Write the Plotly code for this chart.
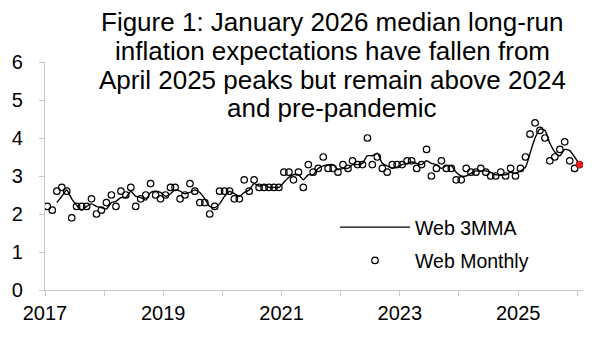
import pandas as pd
import plotly.graph_objects as go

# Monthly survey values, Jan 2017 .. Jan 2026
monthly = [
    2.2, 2.1, 2.6, 2.7, 2.6, 1.9, 2.2, 2.2, 2.2, 2.4, 2.0, 2.1,   # 2017
    2.3, 2.5, 2.2, 2.6, 2.5, 2.7, 2.2, 2.4, 2.5, 2.8, 2.5, 2.4,   # 2018
    2.5, 2.7, 2.7, 2.4, 2.5, 2.8, 2.6, 2.3, 2.3, 2.0, 2.2, 2.6,   # 2019
    2.6, 2.6, 2.4, 2.4, 2.9, 2.6, 2.9, 2.7, 2.7, 2.7, 2.7, 2.7,   # 2020
    3.1, 3.1, 2.9, 3.1, 2.7, 3.3, 3.1, 3.2, 3.5, 3.2, 3.2, 3.1,   # 2021
    3.3, 3.2, 3.4, 3.3, 3.3, 4.0, 3.3, 3.5, 3.2, 3.1, 3.3, 3.3,   # 2022
    3.3, 3.4, 3.4, 3.2, 3.3, 3.7, 3.0, 3.2, 3.4, 3.2, 3.2, 2.9,   # 2023
    2.9, 3.2, 3.1, 3.1, 3.2, 3.1, 3.0, 3.0, 3.1, 3.0, 3.2, 3.0,   # 2024
    3.2, 3.5, 4.1, 4.4, 4.2, 4.0, 3.4, 3.5, 3.7, 3.9, 3.4, 3.2,   # 2025
    3.3,                                                          # 2026
]
start_month = "2017-01-01"
end_month = "2026-01-01"
year_ticks = [str(y) for y in range(2017, 2027)]
year_labels = [y if (int(y) - 2017) % 2 == 0 else "" for y in year_ticks]
y_ticks = [0, 1, 2, 3, 4, 5, 6]
title_lines = [
    "Figure 1: January 2026 median long-run",
    "inflation expectations have fallen from",
    "April 2025 peaks but remain above 2024",
    "and pre-pandemic",
]

dates = pd.date_range(start_month, end_month, freq="MS") + pd.Timedelta(days=14)
s = pd.Series(monthly, index=dates)
mma3 = s.rolling(3).mean()  # 3-month moving average of the monthly series

font = "Liberation Sans, Arial, sans-serif"

fig = go.Figure()
fig.add_trace(go.Scatter(
    x=dates, y=mma3, mode="lines", name="Web 3MMA",
    line=dict(color="black", width=1.4, shape="spline", smoothing=0.6),
    legendgroup="a",
))
fig.add_trace(go.Scatter(
    x=dates, y=monthly, mode="markers", name="Web Monthly",
    marker=dict(symbol="circle-open", size=6.5, color="black", line=dict(width=1.2)),
    legendgroup="b",
))
fig.add_trace(go.Scatter(
    x=dates[-1:], y=monthly[-1:], mode="markers", showlegend=False,
    marker=dict(symbol="circle", size=7, color="#e8201e"),
))

# title lines: vertical centres in px; plot area spans y 62..290 px
title_px = [22.5, 51, 79.5, 108]
annotations = [
    dict(text=t, xref="paper", yref="paper", x=0.534, y=(290 - py) / 228,
         xanchor="center", yanchor="middle", showarrow=False,
         font=dict(size=26, family=font, color="black"))
    for t, py in zip(title_lines, title_px)
]

fig.update_layout(
    width=595, height=337,
    margin=dict(l=43, r=12, t=62, b=47),
    paper_bgcolor="white", plot_bgcolor="white",
    font=dict(family=font, color="black"),
    showlegend=True,
    legend=dict(
        x=0.539, y=0.36, xanchor="left", yanchor="top",
        font=dict(size=19.5, family=font), bgcolor="rgba(0,0,0,0)",
        tracegroupgap=5, itemwidth=70,
    ),
    annotations=annotations,
)
fig.update_xaxes(
    range=["2017-01-01", "2026-02-05"],
    tickmode="array", tickvals=[f"{y}-01-01" for y in year_ticks], ticktext=year_labels,
    ticks="outside", ticklen=5, tickcolor="#c8c8c8",
    showline=True, linecolor="#c8c8c8", linewidth=1.3,
    showgrid=False, zeroline=False,
    tickfont=dict(size=20, family=font),
)
fig.update_yaxes(
    range=[0, 6], tickvals=y_ticks,
    ticks="outside", ticklen=5, tickcolor="#c8c8c8",
    showline=True, linecolor="#c8c8c8", linewidth=1.3,
    showgrid=False, zeroline=False,
    tickfont=dict(size=20, family=font), ticklabelstandoff=12,
)

fig.write_html("out.html")
